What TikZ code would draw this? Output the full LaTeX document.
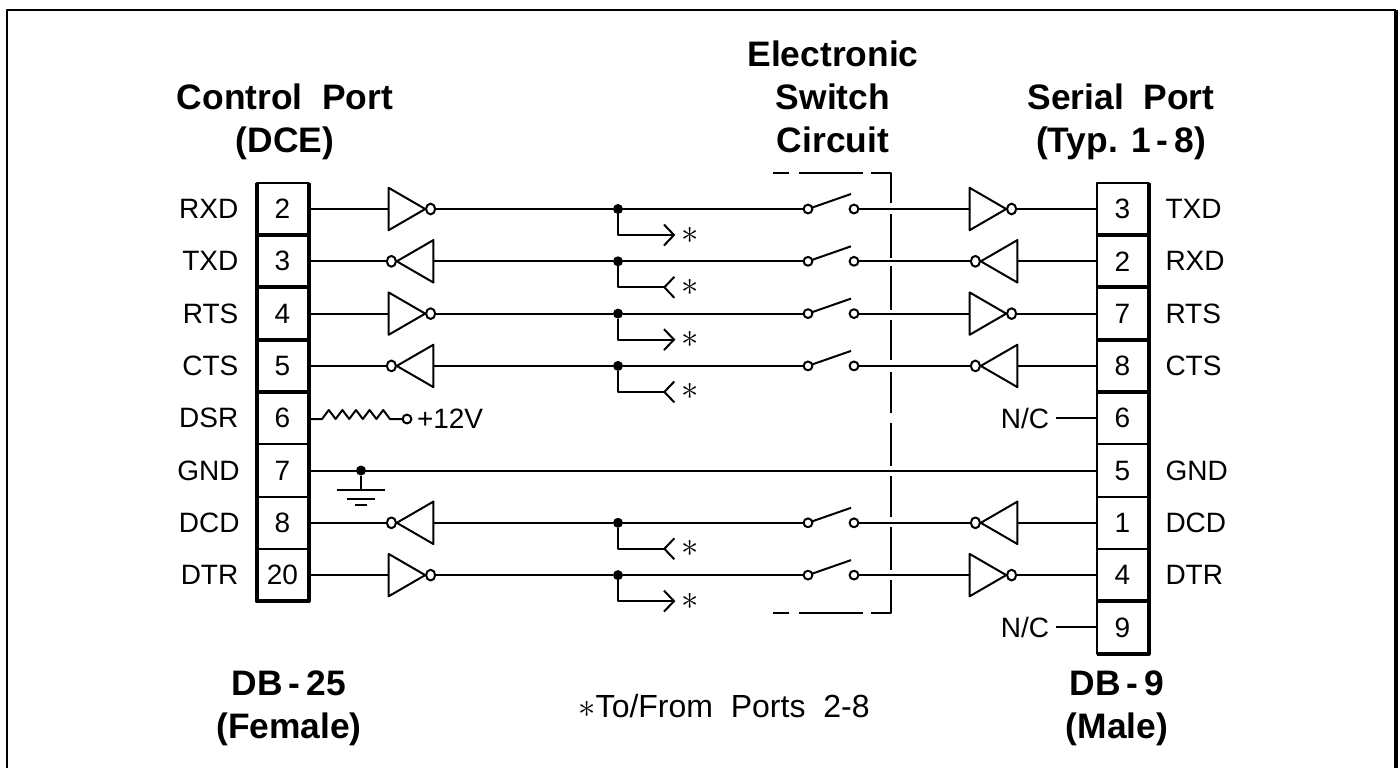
\documentclass[tikz,border=0pt]{standalone}
\usepackage{fontspec}
\setmainfont{Liberation Sans}
\usetikzlibrary{arrows.meta,positioning,calc,shapes.gates.logic.US}

\begin{document}
\begin{tikzpicture}[x=0.5pt,y=-0.5pt,line width=1pt,line join=round,
  pinbox/.style={draw,rectangle,inner sep=0,outer sep=0,minimum width=26pt,minimum height=26.15pt,font=\fontsize{14}{14}\selectfont},
  sig/.style={inner sep=0,font=\fontsize{14}{14}\selectfont},
  title/.style={inner sep=0,align=center,font=\fontsize{17.7}{21.5}\selectfont\bfseries},
  inv/.style={not gate US,draw,inner sep=0,outer sep=0,minimum width=20pt,minimum height=18.2pt,logic gate inverted radius=2.7pt,xscale=0.84,transform shape},
  contact/.style={circle,draw,fill=white,inner sep=0,outer sep=0,minimum size=4.4pt},
  joint/.style={circle,fill,inner sep=0,outer sep=0,minimum size=5pt},
  starmark/.style={inner sep=0,outer sep=0,font=\fontsize{19}{19}\selectfont},
  tapout/.style={-{Straight Barb[length=5pt,width=10.5pt,line width=1pt]},shorten >=3pt},
  tapin/.style={-{Straight Barb[reversed,length=5pt,width=10.5pt,line width=1pt]},shorten >=3pt},
  heavy/.style={line width=2pt}]
\useasboundingbox (0,0) rectangle (1398,768);
\draw (7,768)--(7,10)--(1396,10);
\draw[line width=2pt] (1396,10)--(1396,768);
% titles
\node[title] (tctl) at (285,122) {Control\ \ Port\\(DCE)};
\node[title] (tsw) at (833,97) {Electronic\\Switch\\Circuit};
\node[title] (tser) at (1121,122) {Serial\ \ Port\\(Typ. 1\,-\,8)};
\node[title] (tdb25) at (289,708) {DB\,-\,25\\(Female)};
\node[title] (tdb9) at (1117,708) {DB\,-\,9\\(Male)};
\node[sig,font=\fontsize{16}{16}\selectfont] (tnote) at (724,706) {$*$To/From\ \ Ports\ \ 2-8};
% left connector
\node[pinbox] (l2) at (282.5,209) {2};
\node[pinbox] (l3) at (282.5,261.3) {3};
\node[pinbox] (l4) at (282.5,313.6) {4};
\node[pinbox] (l5) at (282.5,365.9) {5};
\node[pinbox] (l6) at (282.5,418.2) {6};
\node[pinbox] (l7) at (282.5,470.5) {7};
\node[pinbox] (l8) at (282.5,522.8) {8};
\node[pinbox] (l20) at (282.5,575.1) {20};
\draw[heavy] (l2.north west)--(l20.south west)--(l20.south east)--(l2.north east);
\draw[heavy] (l2.south west)--(l2.south east) (l3.south west)--(l3.south east) (l4.south west)--(l4.south east) (l5.south west)--(l5.south east);
\node[sig,left=8.6pt of l2] (nl2) {RXD};
\node[sig,left=8.6pt of l3] (nl3) {TXD};
\node[sig,left=8.6pt of l4] (nl4) {RTS};
\node[sig,left=8.6pt of l5] (nl5) {CTS};
\node[sig,left=8.6pt of l6] (nl6) {DSR};
\node[sig,left=8pt of l7] (nl7) {GND};
\node[sig,left=8pt of l8] (nl8) {DCD};
\node[sig,left=8.6pt of l20] (nl20) {DTR};
% right connector
\node[pinbox] (r3) at (1122.5,209) {3};
\node[pinbox] (r2) at (1122.5,261.3) {2};
\node[pinbox] (r7) at (1122.5,313.6) {7};
\node[pinbox] (r8) at (1122.5,365.9) {8};
\node[pinbox] (r6) at (1122.5,418.2) {6};
\node[pinbox] (r5) at (1122.5,470.5) {5};
\node[pinbox] (r1) at (1122.5,522.8) {1};
\node[pinbox] (r4) at (1122.5,575.1) {4};
\node[pinbox] (r9) at (1122.5,627.4) {9};
\draw[heavy] (r3.north east)--(r9.south east)--(r9.south west);
\draw[heavy] (r3.south west)--(r3.south east) (r2.south west)--(r2.south east) (r7.south west)--(r7.south east) (r8.south west)--(r8.south east) (r4.south west)--(r4.south east);
\node[sig,right=8pt of r3] (nr3) {TXD};
\node[sig,right=8pt of r2] (nr2) {RXD};
\node[sig,right=8pt of r7] (nr7) {RTS};
\node[sig,right=8pt of r8] (nr8) {CTS};
\node[sig,right=8pt of r5] (nr5) {GND};
\node[sig,right=8pt of r1] (nr1) {DCD};
\node[sig,right=8pt of r4] (nr4) {DTR};
\node[sig,outer sep=3.5pt] (nc6) at (1025,418.2) {N/C};
\node[sig,outer sep=3.5pt] (nc9) at (1025,627.4) {N/C};
\draw (nc6)--(r6) (nc9)--(r9);
% gates
\node[inv] (gl2) at (401.3,209) {};
\node[inv,rotate=180] (gl3) at (420.7,261.3) {};
\node[inv] (gl4) at (401.3,313.6) {};
\node[inv,rotate=180] (gl5) at (420.7,365.9) {};
\node[inv,rotate=180] (gl8) at (420.7,522.8) {};
\node[inv] (gl20) at (401.3,575.1) {};
\node[inv] (gr2) at (982.3,209) {};
\node[inv,rotate=180] (gr3) at (1004.7,261.3) {};
\node[inv] (gr4) at (982.3,313.6) {};
\node[inv,rotate=180] (gr5) at (1004.7,365.9) {};
\node[inv,rotate=180] (gr8) at (1004.7,522.8) {};
\node[inv] (gr20) at (982.3,575.1) {};
% taps
\node[joint] (d2) at (618,209) {};
\node[joint] (d3) at (618,261.3) {};
\node[joint] (d4) at (618,313.6) {};
\node[joint] (d5) at (618,365.9) {};
\node[joint] (d8) at (618,522.8) {};
\node[joint] (d20) at (618,575.1) {};
\node[starmark] (s2) at (690,235) {$*$};
\node[starmark] (s3) at (690,287.3) {$*$};
\node[starmark] (s4) at (690,339.6) {$*$};
\node[starmark] (s5) at (690,391.9) {$*$};
\node[starmark] (s8) at (690,548.8) {$*$};
\node[starmark] (s20) at (690,601.1) {$*$};
\draw[tapout] (d2) |- (s2);
\draw[tapin] (d3) |- (s3);
\draw[tapout] (d4) |- (s4);
\draw[tapin] (d5) |- (s5);
\draw[tapin] (d8) |- (s8);
\draw[tapout] (d20) |- (s20);
% switches
\node[contact] (a2) at (808,209) {};
\node[contact] (a3) at (808,261.3) {};
\node[contact] (a4) at (808,313.6) {};
\node[contact] (a5) at (808,365.9) {};
\node[contact] (a8) at (808,522.8) {};
\node[contact] (a20) at (808,575.1) {};
\node[contact] (b2) at (854,209) {};
\node[contact] (b3) at (854,261.3) {};
\node[contact] (b4) at (854,313.6) {};
\node[contact] (b5) at (854,365.9) {};
\node[contact] (b8) at (854,522.8) {};
\node[contact] (b20) at (854,575.1) {};
\draw (a2)--($(b2)+(-3,-15)$) (a3)--($(b3)+(-3,-15)$) (a4)--($(b4)+(-3,-15)$);
\draw (a5)--($(b5)+(-3,-15)$) (a8)--($(b8)+(-3,-15)$) (a20)--($(b20)+(-3,-15)$);
% wires
\draw (l2)--(gl2.input) (gl2.output)--(d2)--(a2) (b2)--(gr2.input) (gr2.output)--(r3);
\draw (l3)--(gl3.output) (gl3.input)--(d3)--(a3) (b3)--(gr3.output) (gr3.input)--(r2);
\draw (l4)--(gl4.input) (gl4.output)--(d4)--(a4) (b4)--(gr4.input) (gr4.output)--(r7);
\draw (l5)--(gl5.output) (gl5.input)--(d5)--(a5) (b5)--(gr5.output) (gr5.input)--(r8);
\draw (l8)--(gl8.output) (gl8.input)--(d8)--(a8) (b8)--(gr8.output) (gr8.input)--(r1);
\draw (l20)--(gl20.input) (gl20.output)--(d20)--(a20) (b20)--(gr20.input) (gr20.output)--(r4);
% ground
\node[joint] (dgnd) at (361,470.5) {};
\coordinate (gnd) at (361,490);
\draw (l7)--(r5) (dgnd)--(gnd);
\draw (337,490)--(385,490) (347,498.5)--(375,498.5) (355,505)--(367,505);
% pull-up
\node[contact] (cv) at (407,419) {};
\node[sig,anchor=west] (n12) at (416,419) {+12V};
\draw (l6.east |- cv) -- (322,419) -- ++(6.8,-9) -- ++(6.8,9) -- ++(6.8,-9) -- ++(6.8,9) -- ++(6.8,-9) -- ++(6.8,9) -- ++(6.8,-9) -- ++(6.8,9) -- ++(6.8,-9) -- ++(6.8,9) -- (cv);
% switch box
\draw[line cap=butt] (773,173)--(789,173) (799,173)--(863,173) (871,173)--(890.5,173)--(890.5,203)
  (890.5,214)--(890.5,258) (890.5,266)--(890.5,310) (890.5,320)--(890.5,360) (890.5,372)--(890.5,413)
  (890.5,423)--(890.5,466) (890.5,476)--(890.5,517) (890.5,527)--(890.5,570) (890.5,580)--(890.5,613)--(871,613)
  (863,613)--(799,613) (789,613)--(773,613);
\end{tikzpicture}
\end{document}
